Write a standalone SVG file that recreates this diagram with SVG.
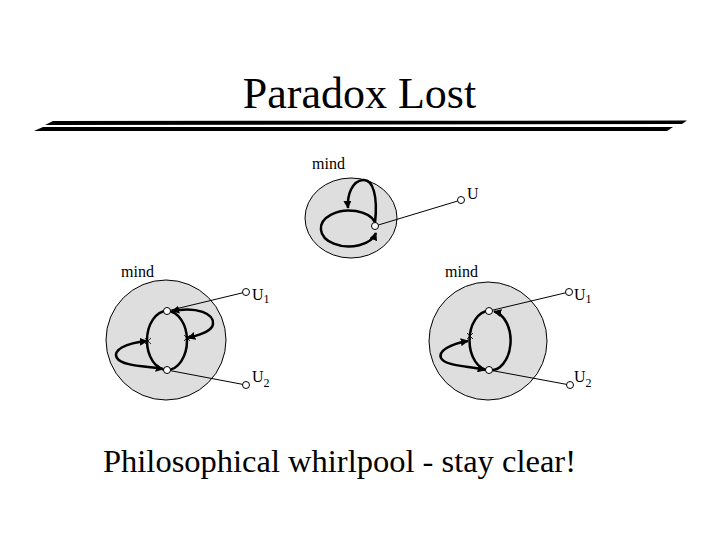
<svg xmlns="http://www.w3.org/2000/svg" width="720" height="540" viewBox="0 0 720 540" font-family="'Liberation Serif', 'DejaVu Serif', serif">
<defs>
<marker id="ah" viewBox="0 0 10 10" refX="9" refY="5" markerWidth="3.2" markerHeight="3.2" orient="auto-start-reverse" markerUnits="strokeWidth">
<path d="M0,0 L10,5 L0,10 Z" fill="#000"/>
</marker>
</defs>
<style>
text{font-family:'Liberation Serif','DejaVu Serif',serif;fill:#000}
.lbl{font-size:16px}
.sub{font-size:12px}
.mind{fill:#dedede;stroke:#000;stroke-width:1}
.loop{fill:none;stroke:#000;stroke-width:2.5}
.arr{fill:none;stroke:#000;stroke-width:2.5;marker-end:url(#ah)}
.arr2{fill:none;stroke:#000;stroke-width:2.5;marker-end:url(#ah);marker-start:url(#ah)}
.wire{stroke:#000;stroke-width:1;fill:none}
.node{fill:#fff;stroke:#000;stroke-width:1}
.x{stroke:#000;stroke-width:0.8}
</style>
<rect width="720" height="540" fill="#fff"/>
<text x="359.5" y="108" font-size="44" text-anchor="middle" font-family="'Liberation Serif', serif">Paradox Lost</text>
<polygon points="45,125 53,121 687,120.5 682,124" fill="#000"/>
<polygon points="34,131 43,127 673,127 667,131" fill="#000"/>

<g id="top-mind">
<ellipse class="mind" cx="351" cy="218" rx="46" ry="40"/>
<text class="lbl" x="312" y="169" font-family="'Liberation Serif', serif">mind</text>
</g>
<g id="bl-mind">
<circle class="mind" cx="166" cy="340" r="60"/>
<text class="lbl" x="121" y="277" font-family="'Liberation Serif', serif">mind</text>
</g>
<g id="br-mind">
<circle class="mind" cx="488" cy="341" r="59"/>
<text class="lbl" x="445" y="277" font-family="'Liberation Serif', serif">mind</text>
</g>

<g id="connectors">
<line class="wire" x1="375" y1="226" x2="461" y2="200"/>
<path class="arr" d="M375,222 A28,18 0 1,0 376,233"/>
<path class="arr" d="M375,223 C378,196 373,179 363,180 C352,181 347,195 348,208"/>
<line class="wire" x1="167" y1="311" x2="246" y2="292"/>
<line class="wire" x1="167" y1="370" x2="246" y2="385"/>
<path class="loop" d="M167,311 A20,29.5 0 0,0 167,370"/>
<path class="loop" d="M167,370 A20,29.5 0 0,0 167,311"/>
<path class="arr2" d="M172,311 C198,306 214,314 213,324 C212,332 198,335 188,338"/>
<path class="arr2" d="M147,341 C126,343 112,350 117,358 C122,366 145,366 163,369"/>
<path class="x" d="M145,338 L151,344 M151,338 L145,344 M184,335 L190,341 M190,335 L184,341"/>
<line class="wire" x1="489" y1="311" x2="569" y2="292"/>
<line class="wire" x1="489" y1="370" x2="570" y2="385"/>
<path class="loop" d="M489,311 A19.5,29.5 0 0,0 489,370"/>
<path class="arr" d="M489,370 A19.5,29.5 0 0,0 494,311.5"/>
<path class="arr2" d="M468,341 C450,344 438,351 441,358 C445,366 468,366 485,370"/>
<path class="x" d="M467,333 L473,339 M473,333 L467,339 M470,332 L470,340"/>
</g>

<g id="nodes">
<circle class="node" cx="375" cy="226" r="3.5"/>
<circle class="node" cx="461" cy="200" r="3.5"/>
<circle class="node" cx="167" cy="311" r="3.5"/>
<circle class="node" cx="167" cy="370" r="3.5"/>
<circle class="node" cx="246" cy="292" r="3.5"/>
<circle class="node" cx="246" cy="385" r="3.5"/>
<circle class="node" cx="489" cy="311" r="3.5"/>
<circle class="node" cx="489" cy="370" r="3.5"/>
<circle class="node" cx="569" cy="292" r="3.5"/>
<circle class="node" cx="570" cy="385" r="3.5"/>
</g>

<g id="labels" font-family="'Liberation Serif', serif">
<text class="lbl" x="467" y="199">U</text>
<text class="lbl" x="252" y="300">U<tspan class="sub" dy="3">1</tspan></text>
<text class="lbl" x="252" y="382">U<tspan class="sub" dy="5">2</tspan></text>
<text class="lbl" x="574" y="300">U<tspan class="sub" dy="3">1</tspan></text>
<text class="lbl" x="574" y="382">U<tspan class="sub" dy="5">2</tspan></text>
</g>

<text x="103" y="472" font-size="32.5" font-family="'Liberation Serif', serif">Philosophical whirlpool - stay clear!</text>
</svg>
